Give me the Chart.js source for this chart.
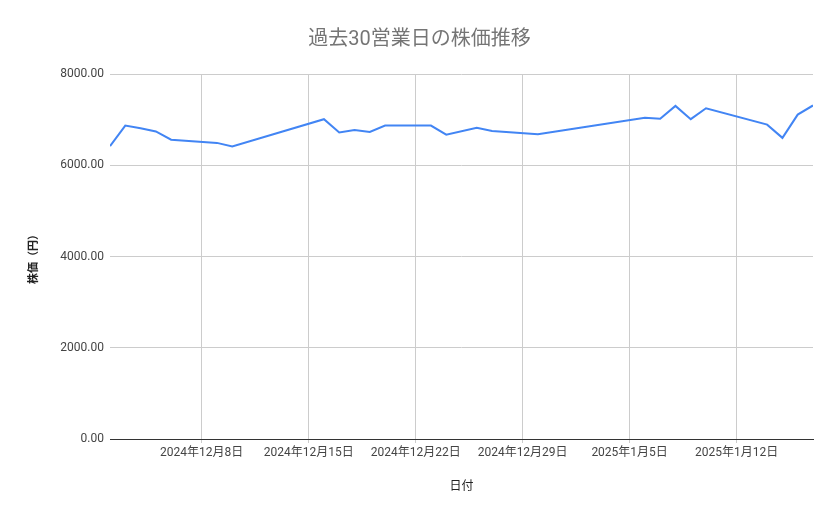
<!DOCTYPE html>
<html>
<head>
<meta charset="utf-8">
<script src="https://cdn.jsdelivr.net/npm/chart.js@4"></script>
<style>
  html, body { margin: 0; padding: 0; background: #fff; }
</style>
</head>
<body>
<canvas id="chart" width="839" height="519"></canvas>
<script>
// 日付と株価（読み取り値）
const dates = [
  '2024-12-02', '2024-12-03', '2024-12-04', '2024-12-05', '2024-12-06',
  '2024-12-09', '2024-12-10', '2024-12-16', '2024-12-17', '2024-12-18',
  '2024-12-19', '2024-12-20', '2024-12-23', '2024-12-24', '2024-12-26',
  '2024-12-27', '2024-12-30', '2025-01-06', '2025-01-07', '2025-01-08',
  '2025-01-09', '2025-01-10', '2025-01-14', '2025-01-15', '2025-01-16',
  '2025-01-17'
];
const prices = [
  6420, 6870, 6810, 6740, 6560,
  6490, 6410, 7010, 6720, 6770,
  6730, 6870, 6870, 6670, 6820,
  6750, 6680, 7040, 7020, 7300,
  7010, 7250, 6890, 6600, 7110,
  7310
];
const tickDates = ['2024-12-08', '2024-12-15', '2024-12-22', '2024-12-29', '2025-01-05', '2025-01-12'];
const yTicks = [0, 2000, 4000, 6000, 8000];

const DAY = 86400000;
function toDay(s) {
  const [y, m, d] = s.split('-').map(Number);
  return Date.UTC(y, m - 1, d) / DAY;
}
function fmt(day) {
  const dt = new Date(day * DAY);
  return dt.getUTCFullYear() + '年' + (dt.getUTCMonth() + 1) + '月' + dt.getUTCDate() + '日';
}

const points = dates.map((d, i) => ({ x: toDay(d), y: prices[i] }));
const font = "Roboto, 'Noto Sans CJK JP', sans-serif";

new Chart(document.getElementById('chart'), {
  type: 'line',
  data: {
    datasets: [{
      data: points,
      borderColor: '#4285f4',
      borderWidth: 2,
      pointRadius: 0,
      tension: 0,
      fill: false
    }]
  },
  options: {
    responsive: false,
    animation: false,
    // 左右を同じ余白にしてタイトルを中央に
    layout: { padding: { left: 26, right: 26, top: 0, bottom: 0 } },
    plugins: {
      legend: { display: false },
      tooltip: { enabled: false },
      title: {
        display: true,
        text: '過去30営業日の株価推移',
        color: '#757575',
        font: { family: font, size: 20, weight: 'normal' },
        padding: { top: 28, bottom: 22 }
      }
    },
    scales: {
      x: {
        type: 'linear',
        min: toDay(dates[0]),
        max: toDay(dates[dates.length - 1]),
        afterBuildTicks: (s) => { s.ticks = tickDates.map(d => ({ value: toDay(d) })); },
        afterFit: (s) => { s.height = 80; },
        ticks: {
          callback: (v) => fmt(v),
          color: '#444',
          font: { family: font, size: 12 },
          padding: 3,
          maxRotation: 0,
          autoSkip: false
        },
        grid: { color: '#cccccc', lineWidth: 1, tickLength: 4 },
        border: { display: true, color: '#333333', width: 1 },
        title: {
          display: true,
          text: '日付',
          color: '#222',
          font: { family: font, size: 12 },
          padding: { top: 0, bottom: 25 }
        }
      },
      y: {
        min: 0,
        max: 8000,
        afterBuildTicks: (s) => { s.ticks = yTicks.map(v => ({ value: v })); },
        afterFit: (s) => { s.width = 84; },
        ticks: {
          callback: (v) => v.toFixed(2),
          color: '#444',
          font: { family: font, size: 12 },
          padding: 6
        },
        grid: { color: '#cccccc', lineWidth: 1, drawTicks: false },
        border: { display: false },
        title: {
          display: true,
          text: '株価（円）',
          color: '#222',
          font: { family: font, size: 11, weight: 'bold' },
          padding: { top: 2, bottom: 0 }
        }
      }
    }
  }
});
</script>
</body>
</html>
